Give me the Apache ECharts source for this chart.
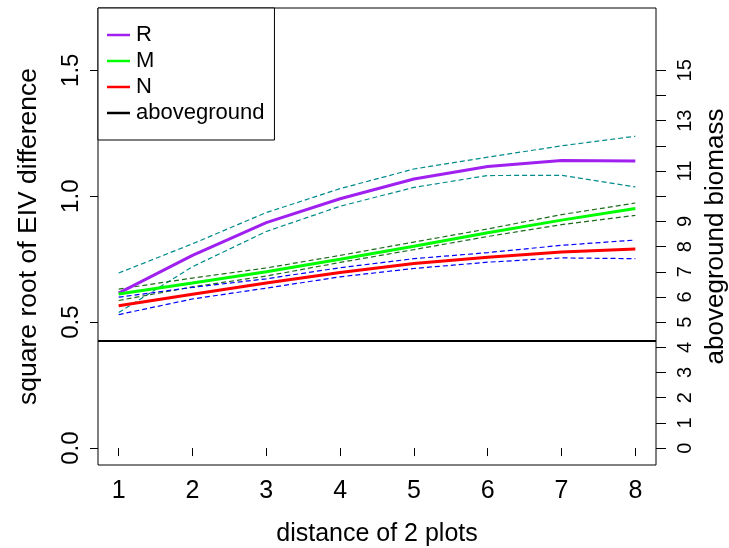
<!DOCTYPE html>
<html>
<head>
<meta charset="utf-8">
<script src="https://cdn.jsdelivr.net/npm/echarts@6/dist/echarts.min.js"></script>
<style>
  html, body { margin: 0; padding: 0; background: #fff; }
  #chart { width: 729px; height: 548px; }
</style>
</head>
<body>
<div id="chart"></div>
<script>
// Distance between two plots (x categories, numeric)
const distances = [1, 2, 3, 4, 5, 6, 7, 8];

// R (EIV) mean and confidence band
const rMean  = [0.615, 0.765, 0.895, 0.990, 1.068, 1.118, 1.142, 1.140];
const rUpper = [0.695, 0.811, 0.935, 1.030, 1.108, 1.155, 1.200, 1.238];
const rLower = [0.538, 0.720, 0.860, 0.960, 1.035, 1.082, 1.083, 1.037];

// M (EIV) mean and confidence band
const mMean  = [0.612, 0.655, 0.700, 0.750, 0.801, 0.855, 0.905, 0.951];
const mUpper = [0.631, 0.675, 0.715, 0.765, 0.818, 0.870, 0.927, 0.973];
const mLower = [0.586, 0.640, 0.683, 0.737, 0.788, 0.840, 0.887, 0.924];

// N (EIV) mean and confidence band
const nMean  = [0.565, 0.611, 0.655, 0.697, 0.733, 0.758, 0.778, 0.790];
const nUpper = [0.599, 0.638, 0.672, 0.716, 0.752, 0.776, 0.805, 0.826];
const nLower = [0.530, 0.592, 0.635, 0.680, 0.713, 0.738, 0.755, 0.752];

// Mean aboveground biomass (right axis)
const abovegroundMean = 4.26;

// Axis ticks
const xTicks = [1, 2, 3, 4, 5, 6, 7, 8];
const leftTicks = [0, 0.5, 1.0, 1.5];
const rightTicks = [0, 1, 2, 3, 4, 5, 6, 7, 8, 9, 10, 11, 12, 13, 14, 15];
const rightTickLabels = [0, 1, 2, 3, 4, 5, 6, 7, 8, 9, 11, 13, 15];

const FONT = '"Liberation Sans", Arial, Helvetica, sans-serif';
const pairs = arr => distances.map((d, i) => [d, arr[i]]);

function meanLine(name, values, color) {
  return {
    name, type: 'line', data: pairs(values), symbol: 'none',
    color, lineStyle: { color, width: 3 }, z: 5, silent: true
  };
}
function bandLine(name, values, color) {
  return {
    name, type: 'line', data: pairs(values), symbol: 'none',
    color, lineStyle: { color, width: 1.2, type: [5, 3] }, z: 3, silent: true
  };
}

const chart = echarts.init(document.getElementById('chart'), null, { renderer: 'canvas' });

chart.setOption({
  animation: false,
  backgroundColor: '#fff',
  textStyle: { fontFamily: FONT, color: '#000' },
  grid: {
    left: 98, top: 8, width: 558, height: 457,
    show: true, borderColor: '#000', borderWidth: 1, backgroundColor: 'transparent',
    containLabel: false, outerBoundsMode: 'none'
  },
  legend: {
    data: ['R', 'M', 'N', 'aboveground'],
    orient: 'vertical', left: 98, top: 8,
    padding: [16, 10, 16, 9],
    itemGap: 4, itemWidth: 23, itemHeight: 2.5, icon: 'rect',
    borderColor: '#000', borderWidth: 1, borderRadius: 0,
    backgroundColor: '#fff',
    textStyle: { fontFamily: FONT, fontSize: 22, color: '#000', padding: [0, 0, 0, 1] },
    z: 10
  },
  xAxis: {
    type: 'value', min: 0.72, max: 8.28,
    axisLine: { show: false }, splitLine: { show: false },
    axisTick: { show: true, length: 8, lineStyle: { color: '#000' }, customValues: xTicks },
    axisLabel: { customValues: xTicks, fontSize: 25, color: '#000', margin: 14, fontFamily: FONT },
    name: 'distance of 2 plots', nameLocation: 'middle', nameGap: 57,
    nameTextStyle: { fontSize: 25, color: '#000', fontFamily: FONT }
  },
  yAxis: [
    {
      type: 'value', position: 'left', min: -0.0672, max: 1.7472,
      axisLine: { show: false }, splitLine: { show: false },
      axisTick: { show: true, length: 8, lineStyle: { color: '#000' }, customValues: leftTicks },
      axisLabel: {
        customValues: leftTicks, rotate: 90, fontSize: 24, color: '#000', margin: 15,
        fontFamily: FONT, formatter: v => v.toFixed(1)
      },
      name: 'square root of EIV difference', nameLocation: 'middle', nameRotate: 90, nameGap: 56,
      nameTextStyle: { fontSize: 26.5, color: '#000', fontFamily: FONT }
    },
    {
      type: 'value', position: 'right', min: -0.672, max: 17.472,
      axisLine: { show: false }, splitLine: { show: false },
      axisTick: { show: true, length: 10, lineStyle: { color: '#000' }, customValues: rightTicks },
      axisLabel: {
        customValues: rightTickLabels, rotate: 90, fontSize: 20, color: '#000', margin: 19,
        fontFamily: FONT
      },
      name: 'aboveground biomass', nameLocation: 'middle', nameRotate: 90, nameGap: 43,
      nameTextStyle: { fontSize: 26, color: '#000', fontFamily: FONT }
    }
  ],
  series: [
    bandLine('R upper', rUpper, '#008B8B'),
    bandLine('R lower', rLower, '#008B8B'),
    bandLine('M upper', mUpper, '#1f6b1f'),
    bandLine('M lower', mLower, '#1f6b1f'),
    bandLine('N upper', nUpper, '#0000FF'),
    bandLine('N lower', nLower, '#0000FF'),
    meanLine('R', rMean, '#A020F0'),
    meanLine('M', mMean, '#00FF00'),
    meanLine('N', nMean, '#FF0000'),
    {
      name: 'aboveground', type: 'line', yAxisIndex: 1, data: [], symbol: 'none',
      color: '#000', lineStyle: { color: '#000', width: 2 }, silent: true,
      markLine: {
        silent: true, symbol: 'none', animation: false,
        label: { show: false },
        lineStyle: { color: '#000', width: 2, type: 'solid' },
        data: [{ yAxis: abovegroundMean }]
      }
    }
  ]
});
</script>
</body>
</html>
